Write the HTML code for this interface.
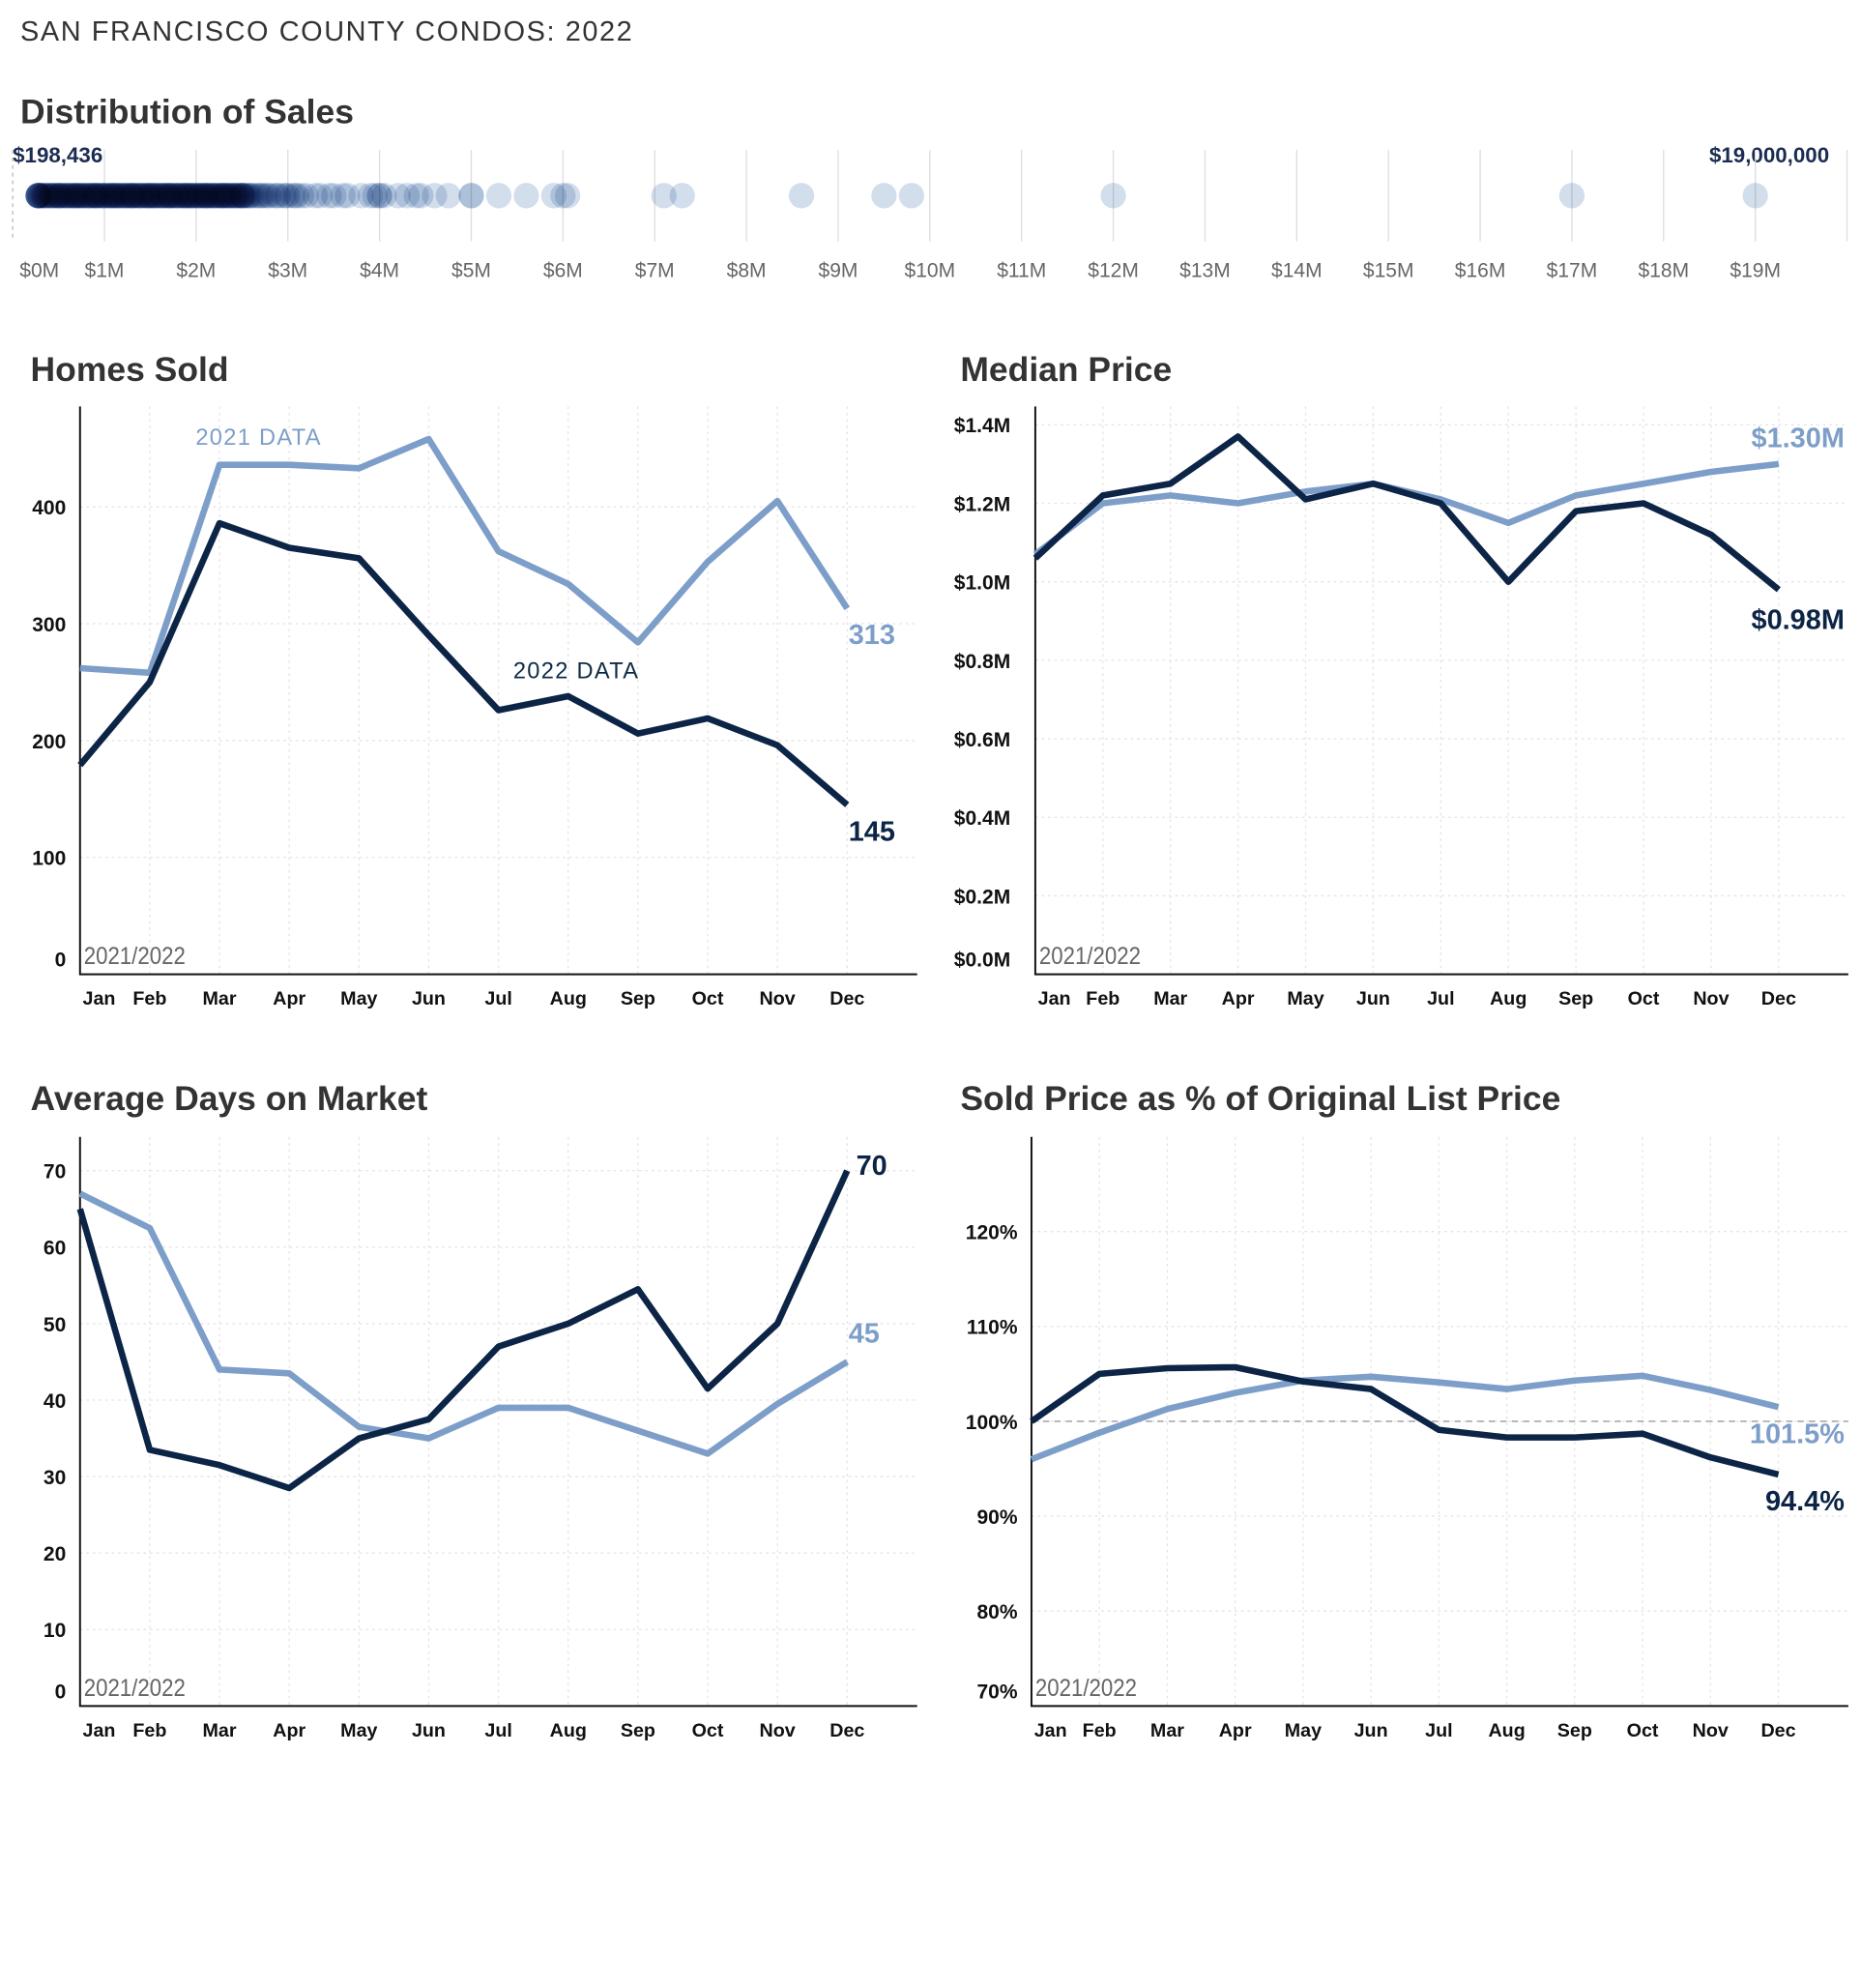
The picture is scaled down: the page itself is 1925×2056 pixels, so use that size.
<!DOCTYPE html>
<html><head><meta charset="utf-8">
<style>
html,body{margin:0;padding:0;background:#fff;}
svg{display:block;font-family:"Liberation Sans",sans-serif;}
.dot{mix-blend-mode:multiply;}
</style></head>
<body>
<svg id="root" width="1925" height="2056" viewBox="0 0 1465 1565" preserveAspectRatio="none" xmlns="http://www.w3.org/2000/svg">
<rect x="0" y="0" width="1465" height="1565" fill="#fff"/>
<text x="16" y="32" font-size="22" fill="#333" letter-spacing="1.2">SAN FRANCISCO COUNTY CONDOS: 2022</text>
<text x="16" y="97" font-size="27" fill="#333" font-weight="bold">Distribution of Sales</text>
<text x="10" y="128" font-size="17" fill="#1b2c52" font-weight="bold">$198,436</text>
<text x="1440" y="128" font-size="17" fill="#1b2c52" font-weight="bold" text-anchor="end">$19,000,000</text>
<g id="strip"></g>
<g id="charts"></g>
</svg>
<script>
const NS="http://www.w3.org/2000/svg";
const months=["Jan","Feb","Mar","Apr","May","Jun","Jul","Aug","Sep","Oct","Nov","Dec"];
const salePrices=[
0.198,0.22,0.24,0.26,0.28,0.3,0.32,0.34,0.36,0.38,0.4,0.42,0.44,0.46,0.48,0.5,0.52,0.54,0.56,0.58,
0.6,0.62,0.64,0.66,0.68,0.7,0.72,0.74,0.76,0.78,0.8,0.82,0.84,0.86,0.88,0.9,0.92,0.94,0.96,0.98,
1.0,1.02,1.04,1.06,1.08,1.1,1.12,1.14,1.16,1.18,1.2,1.22,1.24,1.26,1.28,1.3,1.32,1.34,1.36,1.38,
1.4,1.42,1.44,1.46,1.48,1.5,1.52,1.54,1.56,1.58,1.6,1.62,1.64,1.66,1.68,1.7,1.72,1.74,1.76,1.78,
1.8,1.82,1.84,1.86,1.88,1.9,1.92,1.94,1.96,1.98,2.0,2.02,2.04,2.06,2.08,2.1,2.12,2.14,2.16,2.18,
2.2,2.22,2.24,2.26,2.28,2.3,2.32,2.34,2.36,2.38,2.4,2.42,2.44,2.46,2.48,2.5,2.52,2.55,2.58,2.6,
0.25,0.29,0.33,0.37,0.41,0.45,0.49,0.53,0.57,0.61,0.65,0.69,0.73,0.77,0.81,0.85,0.89,0.93,0.97,1.01,
1.05,1.09,1.13,1.17,1.21,1.25,1.29,1.33,1.37,1.41,1.45,1.49,1.53,1.57,1.61,1.65,1.69,1.73,1.77,1.81,
1.85,1.89,1.93,1.97,2.01,2.05,2.09,2.13,2.17,2.21,2.25,2.29,2.33,2.37,2.41,2.45,2.49,2.53,2.57,2.62,
0.27,0.35,0.43,0.51,0.59,0.67,0.75,0.83,0.91,0.99,1.07,1.15,1.23,1.31,1.39,1.47,1.55,1.63,1.71,1.79,
1.87,1.95,2.03,2.11,2.19,2.27,2.35,2.43,2.51,2.65,2.7,2.75,2.8,2.85,2.9,2.95,3.0,3.05,3.1,3.15,
0.3,0.5,0.7,0.9,1.1,1.3,1.5,1.7,1.9,2.1,2.3,2.5,2.68,2.72,2.78,2.88,2.98,3.08,
3.2,3.3,3.35,3.45,3.5,3.6,3.65,3.8,3.9,3.95,4.0,4.0,4.05,4.2,4.3,4.4,4.45,4.6,4.75,5.0,5.0,
5.3,5.6,5.9,6.0,6.05,7.1,7.3,8.6,9.5,9.8,12.0,17.0,19.0];
const stripTicks=[0,1,2,3,4,5,6,7,8,9,10,11,12,13,14,15,16,17,18,19];
const soldTicks=[0,100,200,300,400];
const sold2021=[262,258,436,436,433,458,362,334,284,353,405,313];
const sold2022=[179,250,386,365,356,290,226,238,206,219,196,145];
const priceTicks=[0,0.2,0.4,0.6,0.8,1.0,1.2,1.4];
const price2021=[1.07,1.20,1.22,1.20,1.23,1.25,1.21,1.15,1.22,1.25,1.28,1.30];
const price2022=[1.06,1.22,1.25,1.37,1.21,1.25,1.20,1.00,1.18,1.20,1.12,0.98];
const domTicks=[0,10,20,30,40,50,60,70];
const dom2021=[67,62.5,44,43.5,36.5,35,39,39,36,33,39.5,45];
const dom2022=[65,33.5,31.5,28.5,35,37.5,47,50,54.5,41.5,50,70];
const pctTicks=[70,80,90,100,110,120];
const pct2021=[96,98.8,101.3,103,104.3,104.7,104.1,103.4,104.3,104.8,103.3,101.5];
const pct2022=[100,105,105.6,105.7,104.2,103.4,99.1,98.3,98.3,98.7,96.2,94.4];

const DARK="#0c2446",LIGHT="#7d9ec8";
function mk(tag,attrs,parent,text){const e=document.createElementNS(NS,tag);for(const k in attrs)e.setAttribute(k,attrs[k]);if(text!==undefined)e.textContent=text;parent.appendChild(e);return e;}

const strip=document.getElementById('strip');
const sx=v=>10+72.2*v;
let dl=mk('line',{x1:10,x2:10,y1:118,y2:190,stroke:"#bbb","stroke-dasharray":"3,3"},strip);

stripTicks.concat([20]).forEach(t=>{if(t===0)return;
  const l=mk('line',{x1:sx(t),x2:sx(t),y1:118,y2:190,stroke:"#ddd","stroke-width":1},strip);
  });
stripTicks.forEach(t=>{const tx=mk('text',{x:t===0?31:sx(t),y:218,"font-size":16,fill:"#666","text-anchor":"middle"},strip,"$"+t+"M");
  });
salePrices.forEach(v=>{const c=mk('circle',{class:"dot",cx:Math.max(sx(v),30),cy:154,r:10,fill:"#d3deec"},strip);
  });

function chart(o){
  const g=mk('g',{},document.getElementById('charts'));
  
  const x=i=>o.x0+o.dx*i, y=v=>o.base-(v-o.min)*o.k;
  const t=mk('text',{x:o.tx,y:o.ty,"font-size":27,fill:"#333","font-weight":"bold"},g,o.title);
  
  months.forEach((m,i)=>{if(i===0)return;const l=mk('line',{x1:x(i),x2:x(i),y1:o.top,y2:o.base,stroke:"#e4e4e4","stroke-dasharray":"2,3"},g);
    });
  o.ticks.forEach(v=>{if(v!==o.min){const l=mk('line',{x1:o.x0,x2:o.x1,y1:y(v),y2:y(v),stroke:"#e4e4e4","stroke-dasharray":"2,3"},g);
      }
    const tl=mk('text',{x:o.lx,y:(v===o.min?y(v)-6:y(v)+6),"font-size":16,fill:"#111","font-weight":"bold","text-anchor":o.anchor},g,o.fmt(v));
    });
  if(o.ref!==undefined){const r=mk('line',{x1:o.x0,x2:o.x1,y1:y(o.ref),y2:y(o.ref),stroke:"#aaa","stroke-dasharray":"5,4","stroke-width":1.2},g);
    }
  const ax=mk('path',{d:`M${o.x0},${o.top}V${o.base}H${o.x1}`,fill:"none",stroke:"#111","stroke-width":1.5},g);
  
  months.forEach((m,i)=>{const tl=mk('text',{x:i===0?x(0)+15:x(i),y:o.base+24,"font-size":15,fill:"#111","font-weight":"bold","text-anchor":"middle"},g,m);
    });
  const yr=mk('text',{x:o.x0+3,y:o.base-8,"font-size":19,fill:"#666","textLength":80,"lengthAdjust":"spacingAndGlyphs"},g,"2021/2022");
  
  [[o.s21,LIGHT,'line-2021'],[o.s22,DARK,'line-2022']].forEach(([s,c,n])=>{
    const p=mk('polyline',{points:s.map((v,i)=>x(i)+","+y(v)).join(" "),fill:"none",stroke:c,"stroke-width":5,"stroke-linejoin":"round"},g);
    });
  o.labels.forEach(L=>{const tl=mk('text',{x:L.x,y:L.y,"font-size":L.fs||22,fill:L.c,"font-weight":L.w||"bold","text-anchor":L.a||"start","letter-spacing":L.ls||0},g,L.t);
    });
}
chart({name:"homes-sold-chart",title:"Homes Sold",tx:24,ty:300,x0:63,x1:722,dx:54.9,top:320,base:767,min:0,k:0.92,
  ticks:soldTicks,fmt:v=>String(v),lx:52,anchor:"end",s21:sold2021,s22:sold2022,
  labels:[{t:"2021 DATA",x:154,y:350,fs:18,c:LIGHT,w:"normal",ls:1,n:"label-2021-data"},
          {t:"2022 DATA",x:404,y:534,fs:18,c:"#0d2b45",w:"normal",ls:1,n:"label-2022-data"},
          {t:String(sold2021[11]),x:668,y:507,c:LIGHT,n:"end-label-2021"},
          {t:String(sold2022[11]),x:668,y:662,c:DARK,n:"end-label-2022"}]});
chart({name:"median-price-chart",title:"Median Price",tx:756,ty:300,x0:815,x1:1455,dx:53.2,top:320,base:767,min:0,k:309,
  ticks:priceTicks,fmt:v=>"$"+v.toFixed(1)+"M",lx:751,anchor:"start",s21:price2021,s22:price2022,
  labels:[{t:"$"+price2021[11].toFixed(2)+"M",x:1452,y:352,c:LIGHT,a:"end",n:"end-label-2021"},
          {t:"$"+price2022[11].toFixed(2)+"M",x:1452,y:495,c:DARK,a:"end",n:"end-label-2022"}]});
chart({name:"days-on-market-chart",title:"Average Days on Market",tx:24,ty:874,x0:63,x1:722,dx:54.9,top:895,base:1343,min:0,k:6.02,
  ticks:domTicks,fmt:v=>String(v),lx:52,anchor:"end",s21:dom2021,s22:dom2022,
  labels:[{t:String(dom2022[11]),x:674,y:925,c:DARK,n:"end-label-2022"},
          {t:String(dom2021[11]),x:668,y:1057,c:LIGHT,n:"end-label-2021"}]});
chart({name:"sold-pct-list-chart",title:"Sold Price as % of Original List Price",tx:756,ty:874,x0:812,x1:1455,dx:53.45,top:895,base:1343,min:70,k:7.47,
  ticks:pctTicks,fmt:v=>v+"%",lx:801,anchor:"end",s21:pct2021,s22:pct2022,ref:100,
  labels:[{t:pct2021[11].toFixed(1)+"%",x:1452,y:1136,c:LIGHT,a:"end",n:"end-label-2021"},
          {t:pct2022[11].toFixed(1)+"%",x:1452,y:1189,c:DARK,a:"end",n:"end-label-2022"}]});
</script>
</body></html>
